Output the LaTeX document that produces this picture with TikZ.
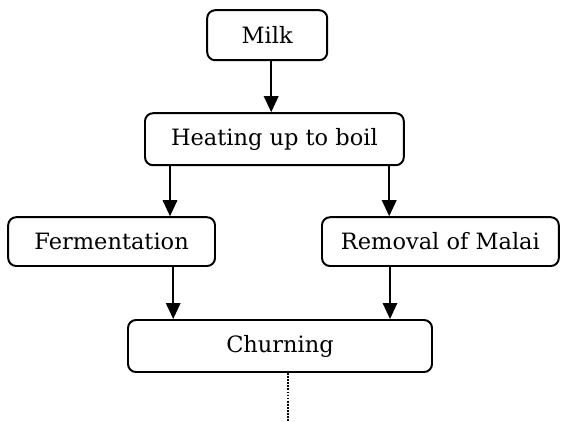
\documentclass[tikz,border=0pt]{standalone}
\usepackage{fontspec}
\setmainfont{DejaVu Serif}
\usetikzlibrary{positioning, arrows.meta}

\begin{document}
\begin{tikzpicture}[
    % Estilos para los nodos
    paso/.style={draw, line width=1.4pt, rounded corners=0.2cm, minimum height=1.25cm,
        font=\fontsize{16}{19}\selectfont, inner sep=2pt},
    flecha/.style={line width=1.4pt, -{Triangle[length=0.4cm, width=0.36cm]}},
    ]
    \useasboundingbox (0,0) rectangle (14.025,-10.525);

    % Cajas del proceso
    \node[paso, minimum width=3cm] (milk) at (6.68,-0.88) {Milk};
    \node[paso, minimum width=6.47cm, minimum height=1.3cm] (heating) at (6.86,-3.48) {Heating up to boil};
    \node[paso, minimum width=5.17cm, minimum height=1.22cm] (ferment) at (2.79,-6.04) {Fermentation};
    \node[paso, minimum width=5.92cm, minimum height=1.22cm] (malai) at (11.01,-6.04) {Removal of Malai};
    \node[paso, minimum width=7.6cm, minimum height=1.3cm] (churn) at (7,-8.65) {Churning};

    % Flechas
    \draw[flecha] (6.78,0 |- milk.south) -- (6.78,0 |- heating.north);
    \draw[flecha] (4.25,0 |- heating.south) -- (4.25,0 |- ferment.north);
    \draw[flecha] (9.73,0 |- heating.south) -- (9.73,0 |- malai.north);
    \draw[flecha] (4.33,0 |- ferment.south) -- (4.33,0 |- churn.north);
    \draw[flecha] (9.75,0 |- malai.south) -- (9.75,0 |- churn.north);

    % Continuación (punteada)
    \coordinate (fin) at (7.2,-10.525);
    \draw[line width=1.2pt, densely dotted] (fin |- churn.south) -- (fin);

\end{tikzpicture}
\end{document}
